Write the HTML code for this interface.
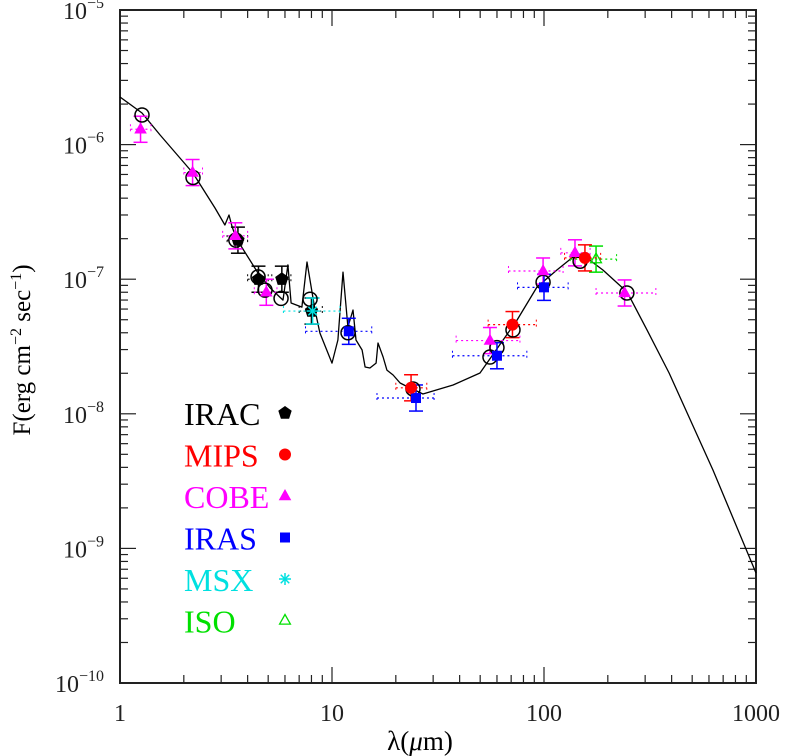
<!DOCTYPE html>
<html><head><meta charset="utf-8"><style>
html,body{margin:0;padding:0;background:#fff;}
svg{display:block;}
text{font-family:"Liberation Serif",serif;}
</style></head><body>
<svg id="chart" width="787" height="756" viewBox="0 0 787 756">
<g id="axes"></g>
<g id="curve"></g>
<g id="points"></g>
<g id="legend"></g>
<text x="420" y="750" text-anchor="middle" font-size="27">λ(<tspan font-style="italic">μ</tspan>m)</text>
<text transform="translate(30,350) rotate(-90)" text-anchor="middle" font-size="25">F(erg cm<tspan dy="-9" font-size="16">−2</tspan><tspan dy="9"> sec</tspan><tspan dy="-9" font-size="16">−1</tspan><tspan dy="9">)</tspan></text>
</svg>
<script>
// model curve (log10 wavelength, log10 flux)
const curveLogLam = [0,.104,.189,.344,.448,.495,.514,.528,.547,.651,.708,.769,.792,.807,.858,.882,.920,.943,1.0,1.028,1.052,1.075,1.099,1.113,1.142,1.156,1.179,1.208,1.217,1.241,1.259,1.288,1.321,1.368,1.401,1.429,1.571,1.698,1.807,1.873,1.967,2.061,2.137,2.203,2.278,2.392,2.486,2.590,2.797,3.0];
const curveLogF = [-5.646,-5.765,-5.929,-6.211,-6.471,-6.597,-6.523,-6.605,-6.694,-6.954,-7.065,-7.155,-6.894,-7.177,-7.207,-6.872,-7.229,-7.400,-7.623,-7.452,-6.947,-7.355,-7.229,-7.452,-7.526,-7.652,-7.660,-7.623,-7.474,-7.578,-7.675,-7.712,-7.771,-7.808,-7.831,-7.853,-7.786,-7.697,-7.452,-7.303,-7.058,-6.932,-6.835,-6.843,-6.932,-7.095,-7.377,-7.697,-8.418,-9.183];
// model open circles
const modelLam = [1.27,2.21,3.52,4.48,4.83,5.75,7.88,11.9,24.1,55.6,60,71.4,99,148,246];
const modelF = [1.66e-6,5.7e-7,1.95e-7,1.04e-7,8.3e-8,7.2e-8,7.1e-8,4.0e-8,1.53e-8,2.64e-8,3.1e-8,4.2e-8,9.5e-8,1.36e-7,7.9e-8];
// IRAC
const iracLam = [3.6,4.5,5.8,8.0];
const iracF = [1.95e-7,1.0e-7,1.0e-7,5.8e-8];
const iracLo = [3.2,4.0,5.2,7.0];
const iracHi = [4.0,5.0,6.4,9.0];
// MIPS
const mipsLam = [23.6,71,156];
const mipsF = [1.56e-8,4.6e-8,1.44e-7];
const mipsLo = [20,54.5,125];
const mipsHi = [28,92,185];
// COBE
const cobeLam = [1.25,2.2,3.5,4.9,55.6,99,140,240];
const cobeF = [1.3e-6,6.2e-7,2.1e-7,8.0e-8,3.5e-8,1.15e-7,1.57e-7,7.9e-8];
const cobeLo = [1.12,2.0,3.05,4.3,38.5,68,120,176];
const cobeHi = [1.4,2.45,4.0,5.5,77,123,165,337];
// IRAS
const irasLam = [12,24.9,60,100];
const irasF = [4.1e-8,1.31e-8,2.7e-8,8.7e-8];
const irasLo = [7.5,16.3,37,75];
const irasHi = [15.4,30.3,83,130];
// MSX
const msxLam = [8.1];
const msxF = [5.8e-8];
const msxLo = [5.9];
const msxHi = [10.9];
// ISO
const isoLam = [176];
const isoF = [1.41e-7];
const isoLo = [133];
const isoHi = [220];

const NS="http://www.w3.org/2000/svg";
const X0=120,X1=756,Y0=683,Y1=10;
function xl(l){return X0+(X1-X0)*(l-0)/3;}
function yl(l){return Y1+(Y0-Y1)*(-5-l)/5;}
function xs(v){return xl(Math.log10(v));}
function ys(v){return yl(Math.log10(v));}
function mk(tag,attrs,parent){const e=document.createElementNS(NS,tag);for(const k in attrs)e.setAttribute(k,attrs[k]);parent.appendChild(e);return e;}

const axes=document.getElementById('axes');
const frame=mk('rect',{x:X0,y:Y1,width:X1-X0,height:Y0-Y1,fill:'none',stroke:'#222','stroke-width':2},axes);


for(let d=0;d<3;d++){for(let m=1;m<=9;m++){const x=xl(d+Math.log10(m));const len=m==1?16:8;
 mk('line',{x1:x,y1:Y0,x2:x,y2:Y0-len,stroke:'#222','stroke-width':1.2},axes);
 mk('line',{x1:x,y1:Y1,x2:x,y2:Y1+len,stroke:'#222','stroke-width':1.2},axes);}}
const xLabels=['1','10','100','1000'];
xLabels.forEach((t,i)=>{const e=mk('text',{x:xl(i),y:721,'text-anchor':'middle','font-size':24,fill:'#222'},axes);e.textContent=t;
 
 });
for(let d=-10;d<-5;d++){for(let m=1;m<=9;m++){const y=yl(d+Math.log10(m));const len=m==1?16:8;
 mk('line',{x1:X0,y1:y,x2:X0+len,y2:y,stroke:'#222','stroke-width':1.2},axes);
 mk('line',{x1:X1,y1:y,x2:X1-len,y2:y,stroke:'#222','stroke-width':1.2},axes);}}
const yExps=['-10','-9','-8','-7','-6','-5'];
yExps.forEach((t,i)=>{const y=yl(-10+i);const e=mk('text',{x:104,y:y+9,'text-anchor':'end','font-size':24,fill:'#222'},axes);
 e.innerHTML='10<tspan dy="-11" font-size="16">'+t.replace('-','−')+'</tspan>';
 
 });

const cg=document.getElementById('curve');
let d='';curveLogLam.forEach((l,i)=>{d+=(i?'L':'M')+xl(l).toFixed(1)+' '+yl(curveLogF[i]).toFixed(1);});
const cp=mk('path',{d:d,fill:'none',stroke:'#000','stroke-width':1.3,'stroke-linejoin':'round'},cg);



const pg=document.getElementById('points');
function errs(lam,F,lo,hi,col){
 lam.forEach((l,i)=>{const x=xs(l),y=ys(F[i]);
  mk('line',{x1:xs(lo[i]),y1:y,x2:xs(hi[i]),y2:y,stroke:col,'stroke-width':1.2,'stroke-dasharray':'2,3'},pg);
  mk('line',{x1:xs(lo[i]),y1:y-5,x2:xs(lo[i]),y2:y+5,stroke:col,'stroke-width':1,'stroke-dasharray':'2,3'},pg);
  mk('line',{x1:xs(hi[i]),y1:y-5,x2:xs(hi[i]),y2:y+5,stroke:col,'stroke-width':1,'stroke-dasharray':'2,3'},pg);
  const yt=ys(F[i]*1.25),yb=ys(F[i]*0.8);
  mk('line',{x1:x,y1:yt,x2:x,y2:yb,stroke:col,'stroke-width':1.5},pg);
  mk('line',{x1:x-7,y1:yt,x2:x+7,y2:yt,stroke:col,'stroke-width':1.5},pg);
  mk('line',{x1:x-7,y1:yb,x2:x+7,y2:yb,stroke:col,'stroke-width':1.5},pg);
 });
}
function pent(x,y,r){let p=[];for(let k=0;k<5;k++){const a=-Math.PI/2+k*2*Math.PI/5;p.push((x+r*Math.cos(a)).toFixed(1)+','+(y+r*Math.sin(a)).toFixed(1));}return p.join(' ');}
function tri(x,y,r){return (x)+','+(y-r)+' '+(x-r*0.9)+','+(y+r*0.6)+' '+(x+r*0.9)+','+(y+r*0.6);}
function marker(type,x,y,col,parent){
 if(type=='pent')return mk('polygon',{points:pent(x,y,7),fill:col},parent);
 if(type=='circ')return mk('circle',{cx:x,cy:y,r:6,fill:col},parent);
 if(type=='tri')return mk('polygon',{points:tri(x,y,7),fill:col},parent);
 if(type=='sq')return mk('rect',{x:x-5,y:y-5,width:10,height:10,fill:col},parent);
 if(type=='tri-open')return mk('polygon',{points:tri(x,y,6),fill:'none',stroke:col,'stroke-width':1.3},parent);
 if(type=='star'){const g=mk('g',{stroke:col,'stroke-width':1.5},parent);for(let k=0;k<4;k++){const a=k*Math.PI/4;mk('line',{x1:x-6*Math.cos(a),y1:y-6*Math.sin(a),x2:x+6*Math.cos(a),y2:y+6*Math.sin(a)},g);}return g;}
}
const sets=[
 ['irac',iracLam,iracF,iracLo,iracHi,'#000','pent'],
 ['cobe',cobeLam,cobeF,cobeLo,cobeHi,'#ff00ff','tri'],
 ['iras',irasLam,irasF,irasLo,irasHi,'#0000ff','sq'],
 ['msx',msxLam,msxF,msxLo,msxHi,'#00e0e0','star'],
 ['iso',isoLam,isoF,isoLo,isoHi,'#00e000','tri-open'],
 ['mips',mipsLam,mipsF,mipsLo,mipsHi,'#ff0000','circ']
];
sets.forEach(s=>errs(s[1],s[2],s[3],s[4],s[5]));
modelLam.forEach((l,i)=>{const c=mk('circle',{cx:xs(l),cy:ys(modelF[i]),r:7,fill:'none',stroke:'#000','stroke-width':1.5},pg);
 
 });
sets.forEach(s=>{s[1].forEach((l,i)=>{const m=marker(s[6],xs(l),ys(s[2][i]),s[5],pg);
 
 });});

const lg=document.getElementById('legend');
const legNames=['IRAC','MIPS','COBE','IRAS','MSX','ISO'];
const legCols=['#000','#ff0000','#ff00ff','#0000ff','#00e0e0','#00e000'];
const legTypes=['pent','circ','tri','sq','star','tri-open'];
legNames.forEach((n,i)=>{const y=413+i*41.5;
 const t=mk('text',{x:184,y:y+12,'font-size':32,fill:legCols[i]},lg);t.textContent=n;
 
 
 const m=marker(legTypes[i],285,y,legCols[i],lg);
 
 });
</script>
</body></html>
